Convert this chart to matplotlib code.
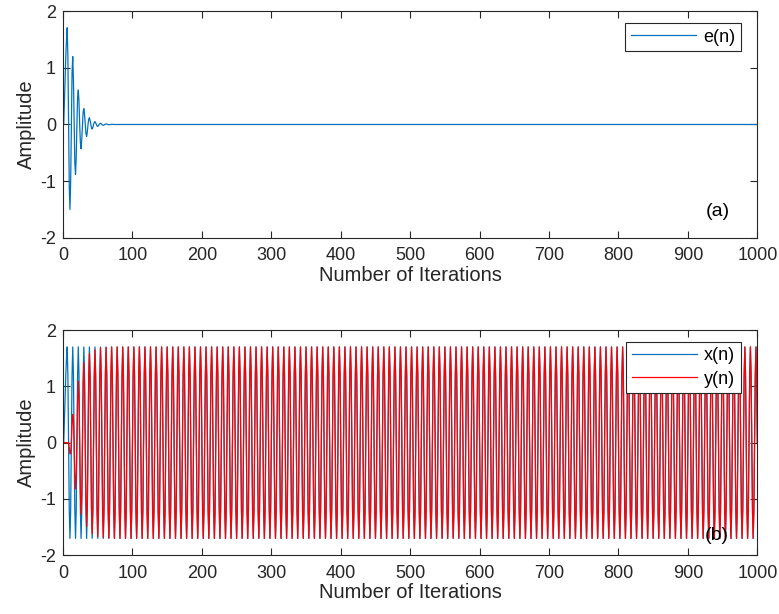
import numpy as np
import matplotlib
matplotlib.use("Agg")
import matplotlib.pyplot as plt

# ------------------- DATA ------------------- #
n_samples = 1001

# x(n): first samples while the signal starts, then one repeating 8-sample period
x_head = [0, 0, 0.4, 0.8, 1.2, 1.5, 1.7, 1.2]
x_cycle = [0, -1.2, -1.7, -1.2, 0, 1.2, 1.7, 1.2]

# e(n): error samples for the first iterations, zero afterwards
e_head = [0, 0, 0.4, 0.8, 1.2, 1.5, 1.71, 1.2,
          0, -1.10, -1.50, -1.01, 0, 0.90, 1.20, 0.79,
          0, -0.67, -0.88, -0.58, 0, 0.48, 0.61, 0.40,
          0, -0.32, -0.43, -0.26, 0, 0.22, 0.28, 0.18,
          0, -0.16, -0.21, -0.13, 0, 0.09, 0.12, 0.07,
          0, -0.06, -0.08, -0.05, 0, 0.04, 0.05, 0.03,
          0, -0.025, -0.035, -0.02, 0, 0.015, 0.02, 0.012,
          0, -0.01, -0.015, -0.01, 0, 0.006, 0.01, 0.006,
          0, -0.004, -0.005, -0.003, 0, 0.002, 0.003, 0.002]

y_ticks = [-2, -1, 0, 1, 2]
x_ticks = [0, 100, 200, 300, 400, 500, 600, 700, 800, 900, 1000]

# ------------------- BUILD SERIES ------------------- #
n = np.arange(n_samples)
reps = (n_samples - len(x_head)) // len(x_cycle) + 1
x = np.concatenate([x_head, np.tile(x_cycle, reps)])[:n_samples]
e = np.zeros(n_samples)
e[:len(e_head)] = e_head
y = x - e

# ------------------- STYLE ------------------- #
plt.rcParams['font.family'] = ['Liberation Sans', 'DejaVu Sans']
plt.rcParams['axes.unicode_minus'] = False
BLUE = "#0072BD"
RED = "#FF0000"
AXC = "#262626"

fig = plt.figure(figsize=(7.79, 6.14), dpi=100)
ax1 = fig.add_axes([0.0809, 0.6129, 0.8913, 0.3687])
ax2 = fig.add_axes([0.0809, 0.0956, 0.8913, 0.3669])


def style_axes(ax):
    ax.set_xlim(0, 1000)
    ax.set_ylim(-2, 2)
    ax.set_xticks(x_ticks)
    ax.set_yticks(y_ticks)
    ax.tick_params(direction="in", length=5, width=0.8, colors=AXC,
                   labelsize=13, top=True, right=True)
    ax.tick_params(axis="x", pad=7)
    ax.tick_params(axis="y", pad=5)
    for s in ax.spines.values():
        s.set_color(AXC)
        s.set_linewidth(0.8)
    ax.set_xlabel("Number of Iterations", fontsize=14.5, color=AXC, labelpad=1)
    ax.set_ylabel("Amplitude", fontsize=14.5, color=AXC, labelpad=3)


def style_legend(ax):
    leg = ax.legend(loc="upper right", bbox_to_anchor=(0.976, 0.947),
                    borderaxespad=0, fontsize=13, fancybox=False,
                    framealpha=1, edgecolor=AXC, handlelength=3.6,
                    handletextpad=0.4, borderpad=0.3, labelspacing=0.35)
    leg.get_frame().set_linewidth(0.8)
    return leg


# top panel: error
ax1.plot(n, e, color=BLUE, linewidth=0.9, label="e(n)")
style_axes(ax1)
style_legend(ax1)
ax1.text(0.943, 0.1135, "(a)", transform=ax1.transAxes, fontsize=14,
         ha="center", va="center", color="black")

# bottom panel: input and output
ax2.plot(n, x, color=BLUE, linewidth=0.9, label="x(n)")
ax2.plot(n, y, color=RED, linewidth=0.9, label="y(n)")
style_axes(ax2)
style_legend(ax2)
ax2.text(0.942, 0.09, "(b)", transform=ax2.transAxes, fontsize=14,
         ha="center", va="center", color="black")

fig.savefig("out.png", dpi=100)
